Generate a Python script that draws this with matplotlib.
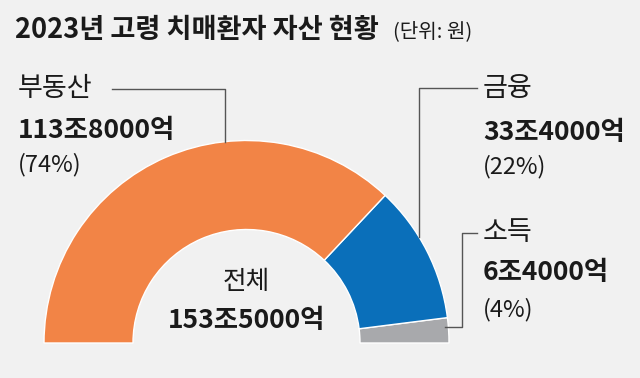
import numpy as np
import matplotlib
matplotlib.use("Agg")
import matplotlib.pyplot as plt

plt.rcParams['font.family'] = ['Noto Sans CJK KR', 'DejaVu Sans']

# ---- data ----
categories = ['소득', '금융', '부동산']
values = [6.4, 33.4, 113.8]          # 조원
shares = [4, 22, 74]                 # %
value_labels = ['6조4000억', '33조4000억', '113조8000억']
share_labels = ['(4%)', '(22%)', '(74%)']
total_label = '153조5000억'
title = '2023년 고령 치매환자 자산 현황'
unit = '(단위: 원)'
colors = ['#A8A9AC', '#0A6FBA', '#F28446']

BG = '#F1F1F1'
W, H = 640, 378
fig = plt.figure(figsize=(W / 100, H / 100), dpi=100, facecolor=BG)
ax = fig.add_axes([0, 0, 1, 1])
ax.set_facecolor(BG)

def Y(y):  # pixel-from-top to data y
    return H - y

cx, cy = 246.5, Y(343)
R, r = 202.5, 113.5

# half donut: add an invisible wedge equal to total so pie spans 180 degrees
total = sum(shares)
wedges, _ = ax.pie(shares + [total], colors=colors + ['none'], startangle=0,
                   counterclock=True, radius=R, center=(cx, cy),
                   wedgeprops=dict(width=R - r, edgecolor='white', linewidth=1.0))
wedges[-1].set_edgecolor('none')

ax.set_xlim(0, W)
ax.set_ylim(0, H)
ax.set_aspect('equal')
ax.axis('off')

def outer_y(x):
    return cy + np.sqrt(R ** 2 - (x - cx) ** 2)

lc = '#555555'
lw = 1.0
# 부동산 leader
ax.plot([112, 225, 225], [Y(89), Y(89), outer_y(225)], color=lc, lw=lw)
# 금융 leader
ax.plot([477, 419, 419], [Y(88), Y(88), outer_y(419)], color=lc, lw=lw)
# 소득 leader
ax.plot([477, 462, 462, 445], [Y(233), Y(233), Y(327), Y(327)], color=lc, lw=lw)

tc = '#1a1a1a'
fs_name = 19.5
fs_val = 19
fs_pct = 17

# title
ax.text(15, Y(30), title, fontsize=19.6, fontweight='heavy', color=tc,
        ha='left', va='center')
ax.text(393, Y(32), unit, fontsize=14.5, color=tc, ha='left', va='center')

# labels
label_pos = {
    '부동산': (18, [88, 130, 165]),
    '금융': (483, [88, 132, 167]),
    '소득': (483, [232, 272, 310]),
}
for cat, vl, sl in zip(categories, value_labels, share_labels):
    x, ys = label_pos[cat]
    ax.text(x, Y(ys[0]), cat, fontsize=fs_name, color=tc, ha='left', va='center')
    ax.text(x, Y(ys[1]), vl, fontsize=fs_val, fontweight='bold', color=tc,
            ha='left', va='center')
    ax.text(x, Y(ys[2]), sl, fontsize=fs_pct, color=tc, ha='left', va='center')

# center
ax.text(cx, Y(282), '전체', fontsize=18.5, color=tc, ha='center', va='center')
ax.text(cx, Y(320), total_label, fontsize=fs_val, fontweight='bold', color=tc,
        ha='center', va='center')

fig.savefig('out.png', dpi=100, facecolor=BG)
